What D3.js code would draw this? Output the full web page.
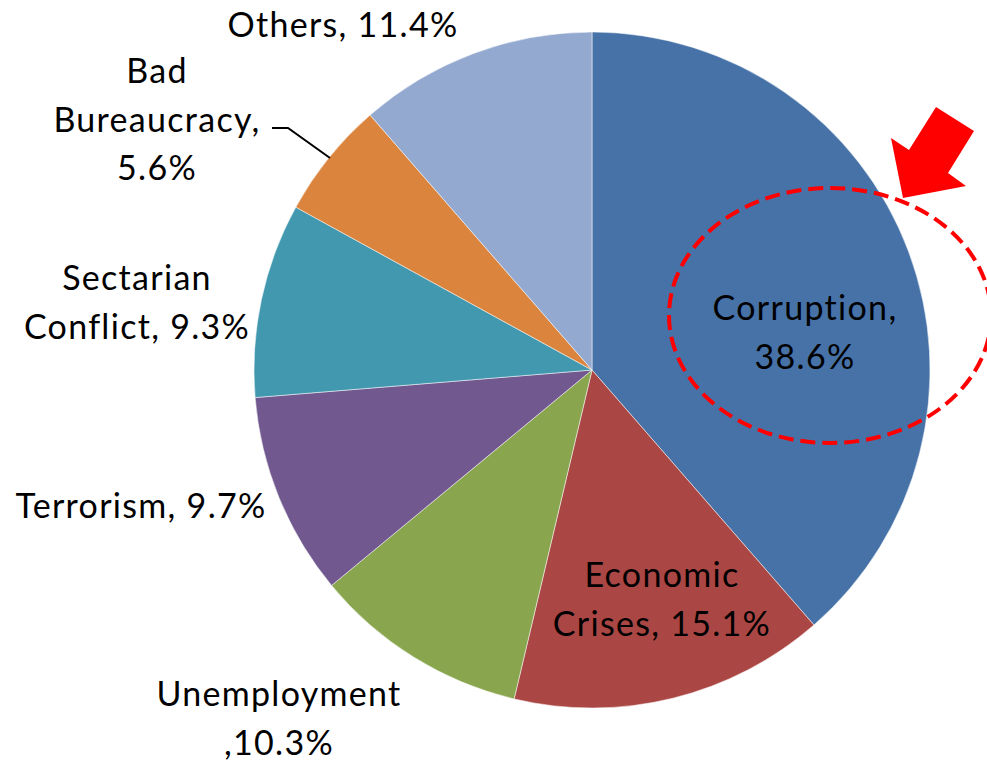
<!DOCTYPE html>
<html>
<head>
<meta charset="utf-8">
<script src="https://cdn.jsdelivr.net/npm/d3@7"></script>
<style>
  html, body { margin: 0; padding: 0; background: #fff; }
  svg { display: block; }
</style>
</head>
<body>
<svg width="987" height="762"></svg>
<script>
// data
const categories = ["Corruption", "Economic Crises", "Unemployment", "Terrorism",
                    "Sectarian Conflict", "Bad Bureaucracy", "Others"];
const shares = [38.6, 15.1, 10.3, 9.7, 9.3, 5.6, 11.4];
const colors = ["#4672A7", "#AA4744", "#89A54E", "#71588F", "#4298AF", "#DB843D", "#93A9CF"];

// label text lines, as they wrap in the original
const labelLines = [
  ["Corruption,", "38.6%"],
  ["Economic", "Crises, 15.1%"],
  ["Unemployment", ",10.3%"],
  ["Terrorism, 9.7%"],
  ["Sectarian", "Conflict, 9.3%"],
  ["Bad", "Bureaucracy,", "5.6%"],
  ["Others, 11.4%"]
];
// label anchor (center x, first baseline y)
const labelPos = [[805, 320], [662, 587], [279, 706], [141, 518], [137, 290], [157, 83], [343, 37]];

const svg = d3.select("svg"),
      cx = 592, cy = 370, radius = 338;

const pie = d3.pie().sort(null).value(d => d);
const arc = d3.arc().innerRadius(0).outerRadius(radius);

const g = svg.append("g").attr("transform", `translate(${cx},${cy})`);

g.selectAll("path")
  .data(pie(shares))
  .join("path")
  .attr("d", arc)
  .attr("fill", (d, i) => colors[i])
  .attr("stroke", "#fff")
  .attr("stroke-opacity", 0.5)
  .attr("stroke-width", 1);

// leader line for Bad Bureaucracy
svg.append("path")
  .attr("d", d3.line()([[272, 128], [288, 128], [330, 158]]))
  .attr("fill", "none")
  .attr("stroke", "#000")
  .attr("stroke-width", 2);

// labels
const labels = svg.append("g")
  .style("font-family", "Lato, 'Open Sans', sans-serif")
  .style("font-size", "34px")
  .style("letter-spacing", "1.3px")
  .attr("fill", "#000")
  .attr("text-anchor", "middle");

labelLines.forEach((lines, i) => {
  const t = labels.append("text")
    .attr("x", labelPos[i][0])
    .attr("y", labelPos[i][1]);
  lines.forEach((s, j) => {
    t.append("tspan")
      .attr("x", labelPos[i][0])
      .attr("y", labelPos[i][1] + j * 48.5)
      .text(s);
  });
});

// red dashed ellipse highlighting Corruption
svg.append("ellipse")
  .attr("cx", 830).attr("cy", 315.5)
  .attr("rx", 161).attr("ry", 127.5)
  .attr("fill", "none")
  .attr("stroke", "#FF0000")
  .attr("stroke-width", 4)
  .attr("stroke-dasharray", "15,7");

// red arrow
svg.append("path")
  .attr("d", d3.line()([[903, 198], [891, 138], [909, 150], [936, 107],
                        [974, 131], [948, 173], [966, 186]]) + "Z")
  .attr("fill", "#FF0000");
</script>
</body>
</html>
